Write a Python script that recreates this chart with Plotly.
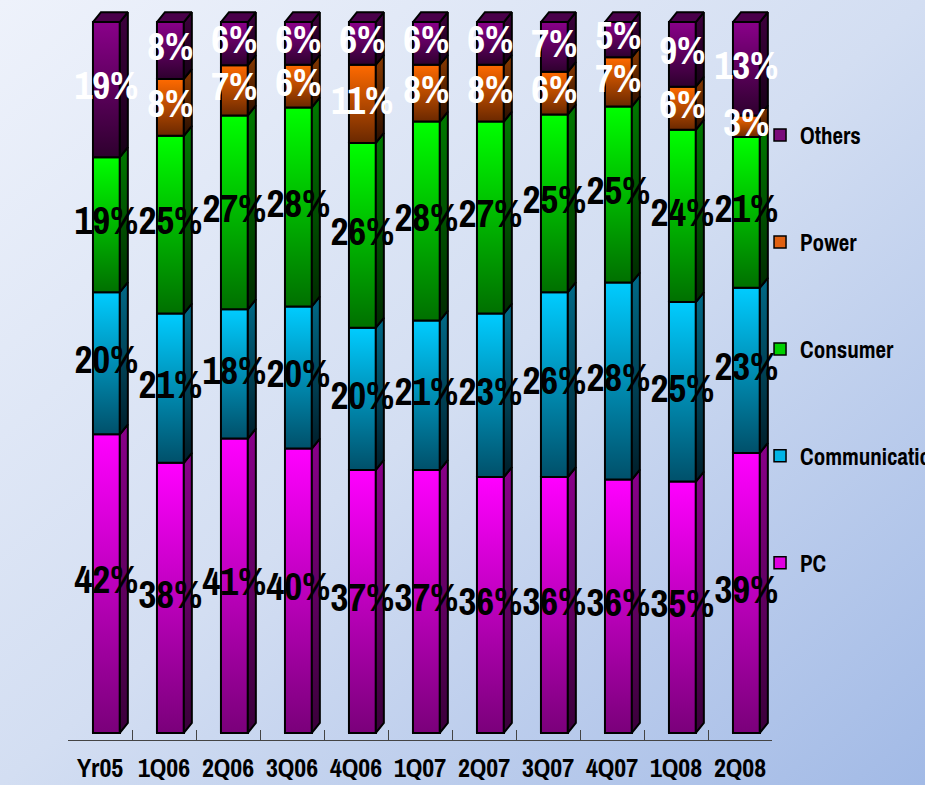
import base64
import plotly.graph_objects as go

# Revenue mix by application segment (share of total, %)
categories = ["Yr05", "1Q06", "2Q06", "3Q06", "4Q06", "1Q07",
              "2Q07", "3Q07", "4Q07", "1Q08", "2Q08"]
pc = [42, 38, 41, 40, 37, 37, 36, 36, 36, 35, 39]
communication = [20, 21, 18, 20, 20, 21, 23, 26, 28, 25, 23]
consumer = [19, 25, 27, 28, 26, 28, 27, 25, 25, 24, 21]
power = [0, 8, 7, 6, 11, 8, 8, 6, 7, 6, 3]
others = [19, 8, 6, 6, 6, 6, 6, 7, 5, 9, 13]
y_ticks = [0, 25, 50, 75, 100]
y_tick_text = ["0%", "25%", "50%", "75%", "100%"]

# name, values, legend colour, front (top, bottom), side (top, bottom), label colour
series = [
    ("PC", pc, "#e000e0", ("#ff00ff", "#7a007a"), ("#8a008a", "#3a003a"), "black"),
    ("Communication", communication, "#00b4e6", ("#00ccff", "#00506a"), ("#006a88", "#001e2a"), "black"),
    ("Consumer", consumer, "#00d000", ("#00ff00", "#007000"), ("#007a00", "#002a00"), "black"),
    ("Power", power, "#e06010", ("#ff6a00", "#6a2800"), ("#8a3a00", "#2a0e00"), "white"),
    ("Others", others, "#7a0a7a", ("#8a008a", "#2e002e"), ("#3e003e", "#160016"), "white"),
]

FONT = "Archivo Narrow, DejaVu Sans Condensed, sans-serif"
FACE_LEFT = -0.11   # front face offset from category centre (x units)
FACE_W = 0.42       # front face width
DEPTH_X = 0.125     # 3-D depth offset, x units
DEPTH_Y = 1.4       # 3-D depth offset, y units
Y_MAX = 102.7

totals = [sum(s[1][i] for s in series) for i in range(len(categories))]

fig = go.Figure()

# front faces as stacked bars (normalised to 100%)
for rank, (name, vals, lcol, front, side, tcol) in enumerate(series):
    fig.add_trace(go.Bar(
        x=list(range(len(categories))), y=[v / t * 100 for v, t in zip(vals, totals)],
        name=name, width=FACE_W, offset=FACE_LEFT, xaxis="x", yaxis="y2",
        marker=dict(color=lcol, line=dict(color="black", width=1.5)),
        legendgroup=name, legendrank=100 - rank, hoverinfo="skip",
    ))

# gradient faces drawn over each stacked segment
label_x, label_y, label_t, label_c = [], [], [], []
for i in range(len(categories)):
    base = 0.0
    for k, (name, vals, lcol, front, side, tcol) in enumerate(series):
        h = vals[i] / totals[i] * 100.0
        top = base + h
        x0 = i + FACE_LEFT
        x1 = x0 + FACE_W
        if h > 0:
            fig.add_trace(go.Scatter(
                x=[x0, x1, x1, x0, x0], y=[base, base, top, top, base],
                mode="lines", fill="toself", xaxis="x", yaxis="y2",
                fillgradient=dict(type="vertical", colorscale=[[0, front[1]], [1, front[0]]]),
                line=dict(color="black", width=2), showlegend=False, hoverinfo="skip",
            ))
            fig.add_trace(go.Scatter(
                x=[x1, x1 + DEPTH_X, x1 + DEPTH_X, x1, x1],
                y=[base, base + DEPTH_Y, top + DEPTH_Y, top, base],
                mode="lines", fill="toself", xaxis="x", yaxis="y2",
                fillgradient=dict(type="vertical", colorscale=[[0, side[1]], [1, side[0]]]),
                line=dict(color="black", width=2), showlegend=False, hoverinfo="skip",
            ))
            label_x.append(i + FACE_LEFT + FACE_W / 2)
            label_y.append(base + h / 2)
            label_t.append(f"{vals[i]}%")
            label_c.append(tcol)
        if k == len(series) - 1:
            fig.add_trace(go.Scatter(
                x=[x0, x1, x1 + DEPTH_X, x0 + DEPTH_X, x0],
                y=[top, top, top + DEPTH_Y, top + DEPTH_Y, top],
                mode="lines", fill="toself", xaxis="x", yaxis="y2",
                fillcolor="#4a004a", line=dict(color="black", width=2),
                showlegend=False, hoverinfo="skip",
            ))
        base = top

# value labels
fig.add_trace(go.Scatter(
    x=label_x, y=label_y, text=label_t, mode="text", xaxis="x2", yaxis="y2",
    textfont=dict(family=FONT, size=39, color=label_c, weight="bold"),
    cliponaxis=False, showlegend=False, hoverinfo="skip",
))

# soft blue backdrop
svg = (
    '<svg xmlns="http://www.w3.org/2000/svg" width="925" height="785">'
    '<defs><linearGradient id="g" x1="0" y1="0" x2="1" y2="1">'
    '<stop offset="0" stop-color="#eef2fb"/><stop offset="0.5" stop-color="#d3def2"/>'
    '<stop offset="1" stop-color="#a2bae6"/></linearGradient></defs>'
    '<rect width="925" height="785" fill="url(#g)"/></svg>'
)
bg_uri = "data:image/svg+xml;base64," + base64.b64encode(svg.encode()).decode()

W, H = 925, 785
ML, MR, MT, MB = 68, 153, 10, 45
PW, PH = W - ML - MR, H - MT - MB

tick_font = dict(family=FONT, size=26, weight="bold", color="black")

fig.update_layout(
    width=W, height=H, autosize=False,
    margin=dict(l=ML, r=MR, t=MT, b=MB, autoexpand=False),
    barmode="stack",
    paper_bgcolor="#d4def2", plot_bgcolor="rgba(0,0,0,0)",
    font=dict(family=FONT, color="black"),
    images=[dict(source=bg_uri, xref="paper", yref="paper",
                 x=-ML / PW, y=1 + MT / PH, sizex=W / PW, sizey=H / PH,
                 xanchor="left", yanchor="top", sizing="stretch", layer="below")],
    xaxis=dict(range=[-0.5, len(categories) - 0.5],
               tickvals=[i + 0.5 for i in range(len(categories))],
               showticklabels=False, ticks="inside", ticklen=10, tickcolor="#444",
               showline=True, linecolor="#444", linewidth=1,
               showgrid=False, zeroline=False, automargin=False),
    xaxis2=dict(range=[-0.5, len(categories) - 0.5], overlaying="x", anchor="y",
                tickvals=list(range(len(categories))), ticktext=categories,
                tickangle=0, ticks="", ticklabelstandoff=10,
                showline=False, showgrid=False, zeroline=False, automargin=False,
                tickfont=tick_font),
    yaxis=dict(range=[0, Y_MAX], tickvals=y_ticks, ticktext=y_tick_text,
               ticks="inside", ticklen=7, tickcolor="#444",
               showline=True, linecolor="#444", linewidth=1,
               showgrid=False, zeroline=False, automargin=False,
               tickfont=tick_font),
    yaxis2=dict(range=[-1, Y_MAX - 1], overlaying="y", anchor="x",
                visible=False, showgrid=False, zeroline=False),
    legend=dict(x=0.983, y=0.858, xanchor="left", yanchor="top",
                traceorder="grouped", tracegroupgap=74,
                font=dict(family=FONT, size=23, weight="bold", color="black"),
                bgcolor="rgba(0,0,0,0)", itemwidth=30),
    showlegend=True,
)

fig.write_html("out.html")
